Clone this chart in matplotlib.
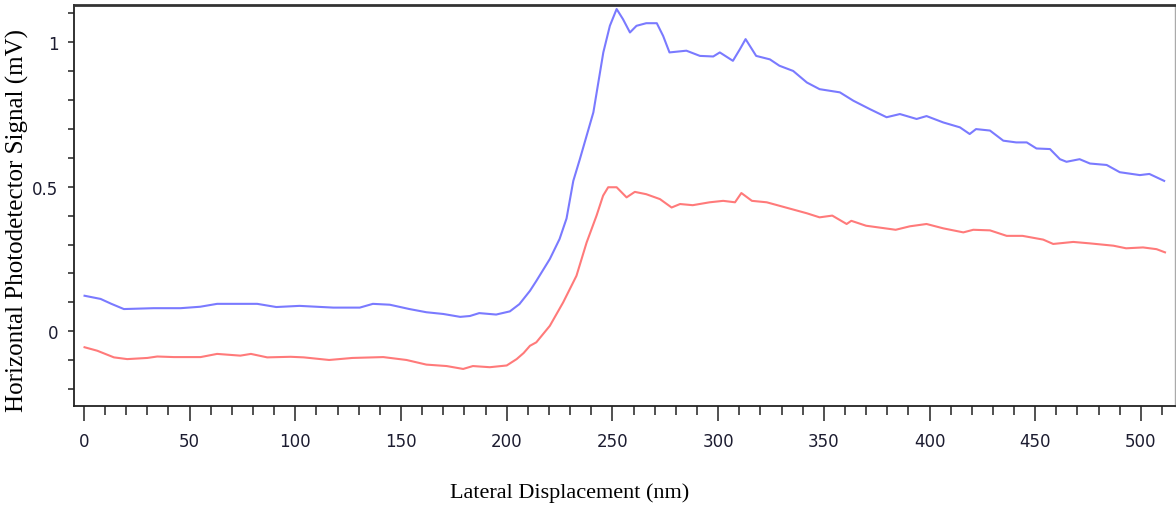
import matplotlib
matplotlib.use("Agg")
import matplotlib.pyplot as plt
from matplotlib.ticker import MultipleLocator

# Lateral displacement (nm) and photodetector signal (mV)
x_blue = [0.3, 7.9, 13, 18.9, 33, 45.7, 55, 63, 74, 82, 91, 102, 118, 130.5,
          136.7, 144.7, 154, 162, 170, 178, 182.6, 187, 195, 201.5, 206, 211,
          214, 220.4, 225, 228.3, 231.5, 234.6, 241, 245.7, 248.8, 252, 255,
          258.3, 261.4, 266, 271, 274, 277, 285, 291.4, 297.7, 300.8, 307,
          310.3, 313, 318, 324.5, 329, 335.5, 342, 348, 357.6, 364, 371.8,
          379.7, 386, 393.9, 398.6, 406.5, 414.4, 419, 422, 428.6, 434.9, 441,
          446, 450.6, 457, 461.7, 464.8, 471, 475.9, 483.8, 490, 499.5, 504, 511]
y_blue = [0.123, 0.112, 0.095, 0.077, 0.080, 0.080, 0.085, 0.095, 0.095, 0.095,
          0.084, 0.088, 0.082, 0.082, 0.095, 0.092, 0.077, 0.066, 0.060, 0.050,
          0.053, 0.063, 0.058, 0.069, 0.094, 0.140, 0.174, 0.250, 0.319, 0.390,
          0.520, 0.595, 0.757, 0.964, 1.056, 1.114, 1.079, 1.033, 1.056, 1.065,
          1.065, 1.021, 0.964, 0.970, 0.952, 0.950, 0.964, 0.935, 0.975, 1.010,
          0.952, 0.940, 0.918, 0.900, 0.860, 0.837, 0.826, 0.797, 0.768, 0.740,
          0.751, 0.734, 0.744, 0.722, 0.705, 0.682, 0.699, 0.694, 0.659, 0.653,
          0.653, 0.632, 0.630, 0.595, 0.586, 0.595, 0.580, 0.575, 0.550, 0.540,
          0.544, 0.520]

x_red = [0.3, 6.3, 14.2, 20.5, 30, 34.7, 42.6, 55.2, 63, 74, 79, 86.7, 97.8,
         104, 116, 127, 141.6, 152.6, 162, 171.6, 179.4, 184, 192, 200, 204.7,
         208, 211, 214, 220.4, 226.7, 233, 237.8, 242.5, 245.6, 248, 252,
         256.7, 260.6, 266, 272.5, 278, 282, 288, 296, 302.4, 308, 311, 316,
         323, 332, 342, 348, 354, 360.8, 363, 370, 384, 390.7, 398.6, 406.5,
         416, 420.7, 428.6, 436.5, 444, 453.8, 458.5, 468, 475.9, 487, 493,
         501, 507.4, 511.4]
y_red = [-0.055, -0.067, -0.090, -0.096, -0.092, -0.087, -0.089, -0.089, -0.078,
         -0.084, -0.078, -0.090, -0.088, -0.090, -0.099, -0.092, -0.089, -0.099,
         -0.115, -0.120, -0.130, -0.120, -0.124, -0.118, -0.096, -0.075, -0.050,
         -0.038, 0.019, 0.100, 0.192, 0.307, 0.400, 0.469, 0.498, 0.498, 0.463,
         0.482, 0.474, 0.457, 0.428, 0.440, 0.436, 0.446, 0.451, 0.446, 0.478,
         0.451, 0.446, 0.428, 0.408, 0.394, 0.400, 0.371, 0.382, 0.365, 0.351,
         0.363, 0.371, 0.356, 0.342, 0.351, 0.349, 0.330, 0.330, 0.317, 0.302,
         0.309, 0.304, 0.296, 0.287, 0.290, 0.284, 0.273]

x_major = [0, 50, 100, 150, 200, 250, 300, 350, 400, 450, 500]
y_major = [0, 0.5, 1]
y_labels = ["0", "0.5", "1"]

fig = plt.figure(figsize=(11.76, 5.10), dpi=100)
ax = fig.add_axes([0.0629, 0.202, 0.9362, 0.786])

ax.plot(x_blue, y_blue, color="#7a7aff", lw=1.5)
ax.plot(x_red, y_red, color="#ff7a7a", lw=1.5)

ax.set_xlim(-4.7, 516.1)
ax.set_ylim(-0.258, 1.1275)

ax.set_xticks(x_major)
ax.xaxis.set_minor_locator(MultipleLocator(10))
ax.set_yticks(y_major)
ax.set_yticklabels(y_labels)
ax.yaxis.set_minor_locator(MultipleLocator(0.1))

tick_font = ["Liberation Sans Narrow", "DejaVu Sans"]
ax.tick_params(axis="x", which="major", length=11, width=1.1, color="#222222",
               direction="out", pad=8, labelsize=12, labelcolor="#1c1c30")
ax.tick_params(axis="x", which="minor", length=6.5, width=1.1, color="#222222",
               direction="out")
ax.tick_params(axis="y", which="both", length=4.3, width=1.1, color="#222222",
               direction="out", pad=7, labelsize=12, labelcolor="#1c1c30")
for lab in ax.get_xticklabels() + ax.get_yticklabels():
    lab.set_family(tick_font)

for side in ["left", "bottom"]:
    ax.spines[side].set_color("#222222")
    ax.spines[side].set_linewidth(1.3)
ax.spines["top"].set_color("#333333")
ax.spines["top"].set_linewidth(2.0)
ax.spines["right"].set_color("#aaaaaa")
ax.spines["right"].set_linewidth(1.0)

ax.set_xlabel("Lateral Displacement (nm)", family="Liberation Serif", fontsize=16)
ax.set_ylabel("Horizontal Photodetector Signal (mV)", family="Liberation Serif",
              fontsize=18)
ax.xaxis.set_label_coords(0.45, -0.19)
ax.yaxis.set_label_coords(-0.041, 0.464)

fig.savefig("out.png", dpi=100)
